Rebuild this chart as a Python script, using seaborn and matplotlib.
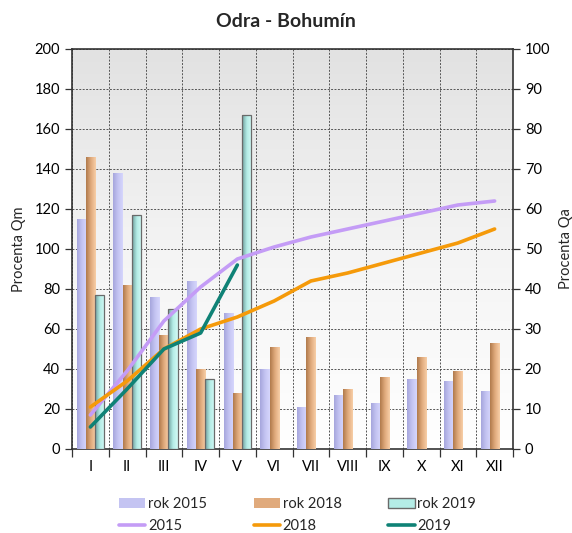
import numpy as np
import pandas as pd
import matplotlib
matplotlib.use("Agg")
import matplotlib.pyplot as plt
from matplotlib.colors import LinearSegmentedColormap
from matplotlib.patches import Patch
from matplotlib.lines import Line2D
import seaborn as sns

months = ["I", "II", "III", "IV", "V", "VI", "VII", "VIII", "IX", "X", "XI", "XII"]

# Monthly flow as percent of Qm (bars, left axis)
qm_2015 = [115, 138, 76, 84, 68, 40, 21, 27, 23, 35, 34, 29]
qm_2018 = [146, 82, 57, 40, 28, 51, 56, 30, 36, 46, 39, 53]
qm_2019 = [77, 117, 70, 35, 167, np.nan, np.nan, np.nan, np.nan, np.nan, np.nan, np.nan]

# Cumulative runoff as percent of Qa (lines, right axis)
qa_2015 = [8.5, 19.5, 32, 40.5, 47.5, 50.5, 53, 55, 57, 59, 61, 62]
qa_2018 = [10.5, 17, 25, 30, 33, 37, 42, 44, 46.5, 49, 51.5, 55]
qa_2019 = [5.5, 15, 25, 29, 46]

bar_series = ["rok 2015", "rok 2018", "rok 2019"]
line_series = ["2015", "2018", "2019"]

bars = pd.DataFrame({
    "month": months * 3,
    "series": np.repeat(bar_series, len(months)),
    "value": qm_2015 + qm_2018 + qm_2019,
}).dropna()

line_rows = []
for name, vals in zip(line_series, [qa_2015, qa_2018, qa_2019]):
    for i, v in enumerate(vals):
        line_rows.append({"pos": i, "series": name, "value": v})
lines = pd.DataFrame(line_rows)

bar_grad = {
    "rok 2015": ["#a6a6dc", "#c4c4f2", "#d6d6fc"],
    "rok 2018": ["#b07a4c", "#e0aa7c", "#f8cfa8"],
    "rok 2019": ["#6f9e9c", "#b4ece6", "#d4fbf6"],
}
bar_mid = {k: v[1] for k, v in bar_grad.items()}
line_colors = {"2015": "#c49cf6", "2018": "#f59a0a", "2019": "#0f8276"}

sns.set_theme(style="white")
plt.rcParams["font.family"] = ["Lato", "DejaVu Sans"]

fig = plt.figure(figsize=(5.72, 5.33), dpi=100)
ax = fig.add_axes([72 / 572, 1 - 449 / 533, 441 / 572, 400 / 533])

sns.barplot(data=bars, x="month", y="value", hue="series", order=months,
            hue_order=bar_series, palette=bar_mid, width=0.75, saturation=1,
            errorbar=None, legend=False, ax=ax, zorder=3)

# Horizontal gradient fill on each bar
for container, name in zip(ax.containers, bar_series):
    cmap = LinearSegmentedColormap.from_list(name, bar_grad[name])
    for p in container.patches:
        h = p.get_height()
        if not np.isfinite(h) or h <= 0:
            p.set_visible(False)
            continue
        x, y, w = p.get_x(), p.get_y(), p.get_width()
        ax.imshow(np.linspace(0, 1, 64).reshape(1, -1), cmap=cmap, aspect="auto",
                  extent=[x, x + w, y, y + h], zorder=3.1, interpolation="bilinear")
        p.set_facecolor("none")
        if name == "rok 2019":
            p.set_edgecolor("#6a6a6a")
            p.set_linewidth(0.9)
        else:
            p.set_edgecolor("none")
        p.set_zorder(3.2)

ax.set_xlim(-0.5, 11.5)
ax.set_ylim(0, 200)

# Plot background: vertical grey-to-white gradient
bg = LinearSegmentedColormap.from_list("bg", ["#ffffff", "#f4f4f4", "#e2e2e2"])
ax.imshow(np.linspace(0, 1, 128).reshape(-1, 1), cmap=bg, aspect="auto",
          extent=[0, 1, 0, 1], transform=ax.transAxes, origin="lower", zorder=0)

ax.set_yticks(np.arange(0, 201, 20))
ax.set_xticks(range(len(months)))
ax.set_xticklabels(months)
ax.set_xticks(np.arange(-0.5, 12, 1), minor=True)
ax.tick_params(axis="x", which="major", length=0, labelsize=10.5, pad=8, colors="#000000")
ax.tick_params(axis="x", which="minor", length=6, width=0.9, color="#333333", direction="out", bottom=True)
ax.tick_params(axis="y", length=5, width=0.9, color="#333333", direction="out", left=True,
               labelsize=10.5, labelcolor="#000000")
ax.grid(True, axis="y", which="major", color="#555555", linestyle=(0, (2, 1.5)), linewidth=0.7, zorder=1)
ax.grid(True, axis="x", which="minor", color="#555555", linestyle=(0, (2, 1.5)), linewidth=0.7, zorder=1)
ax.grid(False, axis="x", which="major")
ax.set_axisbelow(True)
ax.set_xlabel("")
ax.set_ylabel("Procenta Qm", fontsize=10.5, labelpad=6)
for s in ax.spines.values():
    s.set_visible(True)
    s.set_color("#333333")
    s.set_linewidth(1.2)

ax2 = ax.twinx()
sns.lineplot(data=lines, x="pos", y="value", hue="series", hue_order=line_series,
             palette=line_colors, linewidth=2.6, legend=False, ax=ax2)
ax2.set_ylim(0, 100)
ax2.set_xlim(-0.5, 11.5)
ax2.set_yticks(np.arange(0, 101, 10))
ax2.tick_params(axis="y", length=5, width=0.9, color="#333333", direction="out", right=True,
                labelsize=10.5, labelcolor="#000000")
ax2.set_ylabel("Procenta Qa", fontsize=10.5, labelpad=6)
ax2.set_xlabel("")
ax2.grid(False)
for s in ax2.spines.values():
    s.set_visible(False)

fig.suptitle("Odra - Bohumín", fontsize=14, fontweight="bold", y=0.975)

handles, labels = [], []
for b, l in zip(bar_series, line_series):
    handles.append(Patch(facecolor=bar_mid[b], edgecolor="#6a6a6a" if b == "rok 2019" else "none"))
    labels.append(b)
    handles.append(Line2D([], [], color=line_colors[l], linewidth=2.6))
    labels.append(l)
fig.legend(handles, labels, ncol=3, loc="lower center", bbox_to_anchor=(0.52, -0.025),
           frameon=False, fontsize=10.5, handlelength=1.8, handletextpad=0.2,
           columnspacing=3.2, labelspacing=0.55)

fig.savefig("out.png", dpi=100)
